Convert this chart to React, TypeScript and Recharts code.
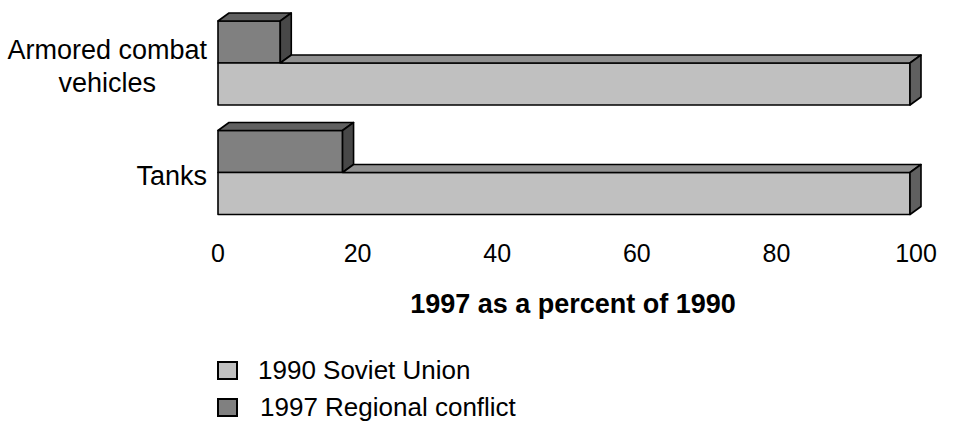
import { BarChart, Bar, XAxis, YAxis, Legend, Label } from "recharts";

const categories = ["Armored combat vehicles", "Tanks"];
const soviet1990 = [100, 100];
const regional1997 = [9, 18];
const xTicks = [0, 20, 40, 60, 80, 100];
const seriesNames = ["1990 Soviet Union", "1997 Regional conflict"];
const axisTitle = "1997 as a percent of 1990";

const data = categories.map((name, i) => ({
  name,
  soviet: soviet1990[i],
  regional: regional1997[i],
}));

const FONT = '"Liberation Sans", Arial, sans-serif';
const DX = 11;
const DY = 8;

const lightColors = { front: "#c0c0c0", top: "#909090", side: "#606060" };
const darkColors = { front: "#808080", top: "#606060", side: "#484848" };

let measureCtx: CanvasRenderingContext2D | null = null;
const measure = (text: string, size: number) => {
  if (!measureCtx) measureCtx = document.createElement("canvas").getContext("2d");
  if (!measureCtx) return text.length * size * 0.5;
  measureCtx.font = `${size}px ${FONT}`;
  return measureCtx.measureText(text).width;
};

const Block = ({ x, y, width, height, topFrom, colors }: any) => {
  const r = x + width;
  const b = y + height;
  const common = { stroke: "#000", strokeWidth: 1.6, strokeLinejoin: "round" as const };
  return (
    <g>
      <rect x={x} y={y} width={width} height={height} fill={colors.front} {...common} />
      <polygon
        points={`${topFrom},${y} ${topFrom + DX},${y - DY} ${r + DX},${y - DY} ${r},${y}`}
        fill={colors.top}
        {...common}
      />
      <polygon
        points={`${r},${y} ${r + DX},${y - DY} ${r + DX},${b - DY} ${r},${b}`}
        fill={colors.side}
        {...common}
      />
    </g>
  );
};

const DarkShape = (props: any) => (
  <Block {...props} topFrom={props.x} colors={darkColors} />
);

// the light bar's top face starts where the dark box sits on it
const LightShape = (props: any) => {
  const { x, width, payload } = props;
  const perUnit = width / payload.soviet;
  return <Block {...props} topFrom={x + payload.regional * perUnit} colors={lightColors} />;
};

const CategoryTick = ({ x, y, payload }: any) => {
  const lines =
    payload.value === "Armored combat vehicles" ? ["Armored combat", "vehicles"] : [payload.value];
  const size = 27;
  const lineH = 33;
  const block = Math.max(...lines.map((l) => measure(l, size)));
  const cx = x - 3 - block / 2;
  const first = y + 3 - ((lines.length - 1) * lineH) / 2;
  return (
    <text textAnchor="middle" fontFamily={FONT} fontSize={size} fill="#000">
      {lines.map((l, i) => (
        <tspan key={l} x={cx} y={first + i * lineH} dy="0.36em">
          {l}
        </tspan>
      ))}
    </text>
  );
};

const ValueTick = ({ x, y, payload }: any) => (
  <text
    x={x + payload.value * 0.06}
    y={y + 9}
    dy="0.71em"
    textAnchor="middle"
    fontFamily={FONT}
    fontSize={25}
    fill="#000"
  >
    {payload.value}
  </text>
);

const AxisTitle = ({ viewBox }: any) => (
  <text
    x={viewBox.x + viewBox.width / 2 + 9}
    y={viewBox.y + 86}
    textAnchor="middle"
    fontFamily={FONT}
    fontSize={27}
    fontWeight="bold"
    fill="#000"
  >
    {axisTitle}
  </text>
);

const LegendBox = () => (
  <div style={{ fontFamily: FONT, fontSize: 26, color: "#000" }}>
    {seriesNames.map((name, i) => (
      <div key={name} style={{ display: "flex", alignItems: "center", height: 37 }}>
        <span
          style={{
            display: "inline-block",
            width: 21,
            height: 19,
            boxSizing: "border-box",
            border: "2px solid #000",
            background: i === 0 ? lightColors.front : darkColors.front,
          }}
        />
        <span style={{ marginLeft: i === 0 ? 20 : 22, lineHeight: "normal" }}>{name}</span>
      </div>
    ))}
  </div>
);

export default function App() {
  return (
    <div style={{ position: "absolute", left: 0, top: 0, width: 955, height: 424, background: "#fff" }}>
      <BarChart
        width={955}
        height={424}
        data={data}
        layout="vertical"
        margin={{ top: 8, right: 45, bottom: 167, left: 0 }}
        barGap={0}
      >
        <XAxis
          type="number"
          domain={[0, 100]}
          ticks={xTicks}
          axisLine={false}
          tickLine={false}
          height={30}
          tick={<ValueTick />}
          interval={0}
        >
          <Label content={<AxisTitle />} />
        </XAxis>
        <YAxis
          type="category"
          dataKey="name"
          width={218}
          axisLine={false}
          tickLine={false}
          tick={<CategoryTick />}
        />
        <Legend
          layout="vertical"
          align="center"
          verticalAlign="middle"
          content={<LegendBox />}
          wrapperStyle={{ left: 217, top: 352, width: 400 }}
        />
        <Bar
          dataKey="regional"
          name={seriesNames[1]}
          barSize={42}
          shape={<DarkShape />}
          isAnimationActive={false}
        />
        <Bar
          dataKey="soviet"
          name={seriesNames[0]}
          barSize={42}
          shape={<LightShape />}
          isAnimationActive={false}
        />
      </BarChart>
    </div>
  );
}
